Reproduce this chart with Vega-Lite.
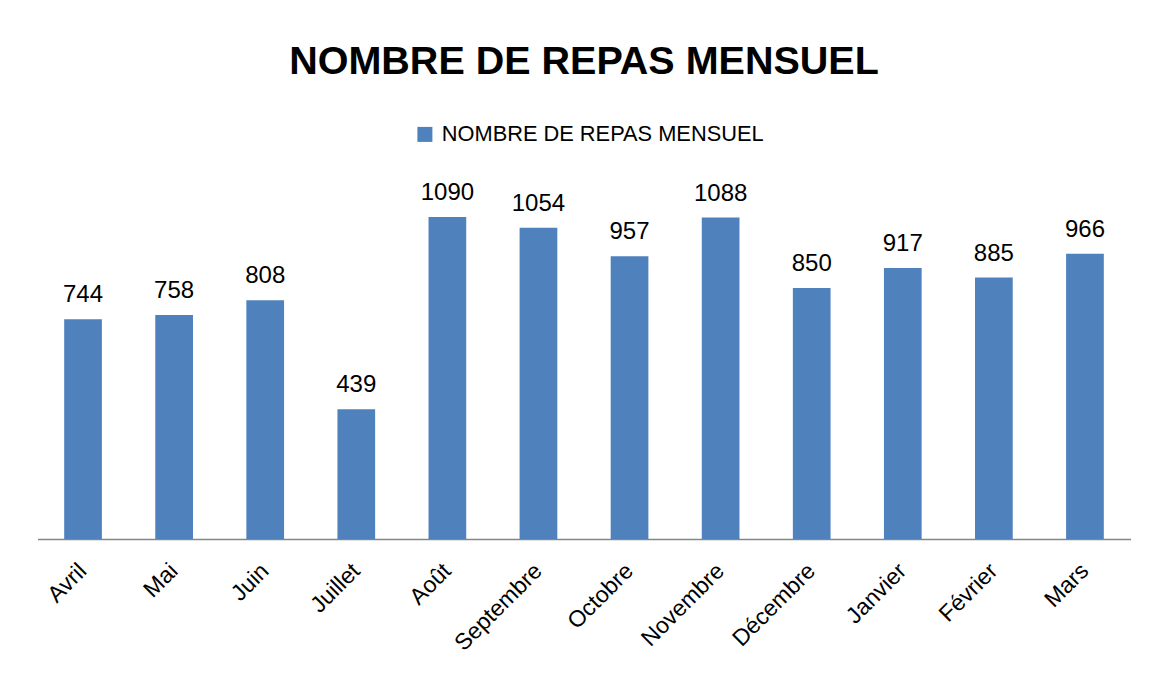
{
  "$schema": "https://vega.github.io/schema/vega-lite/v6.json",
  "autosize": {"type": "none"},
  "padding": {"left": 37.5, "top": 184.5, "right": 20.5, "bottom": 136},
  "width": 1093,
  "height": 354.5,
  "background": "white",
  "title": {
    "text": "NOMBRE DE REPAS MENSUEL",
    "font": "Liberation Sans",
    "fontSize": 39.5,
    "fontWeight": "bold",
    "color": "#000000",
    "anchor": "middle",
    "frame": "group",
    "baseline": "alphabetic",
    "offset": 10
  },
  "data": {
    "values": [
      {"mois": "Avril", "repas": 744},
      {"mois": "Mai", "repas": 758},
      {"mois": "Juin", "repas": 808},
      {"mois": "Juillet", "repas": 439},
      {"mois": "Août", "repas": 1090},
      {"mois": "Septembre", "repas": 1054},
      {"mois": "Octobre", "repas": 957},
      {"mois": "Novembre", "repas": 1088},
      {"mois": "Décembre", "repas": 850},
      {"mois": "Janvier", "repas": 917},
      {"mois": "Février", "repas": 885},
      {"mois": "Mars", "repas": 966}
    ]
  },
  "encoding": {
    "x": {
      "field": "mois",
      "type": "nominal",
      "sort": null,
      "scale": {"paddingInner": 0.586, "paddingOuter": 0.293},
      "axis": {
        "title": null,
        "grid": false,
        "ticks": false,
        "domain": true,
        "domainColor": "#868686",
        "domainWidth": 1.5,
        "domainOpacity": 1,
        "labelAngle": -45,
        "labelAlign": "right",
        "labelBaseline": "middle",
        "labelFont": "Liberation Sans",
        "labelFontSize": 23,
        "labelColor": "#000000",
        "labelPadding": 28,
        "labelLimit": 300
      }
    },
    "y": {
      "field": "repas",
      "type": "quantitative",
      "scale": {"domain": [0, 1200]},
      "axis": null
    }
  },
  "layer": [
    {
      "mark": {"type": "bar"},
      "encoding": {
        "color": {
          "datum": "NOMBRE DE REPAS MENSUEL",
          "scale": {"range": ["#4F81BD"]},
          "legend": {
            "title": null,
            "orient": "none",
            "legendX": 376.5,
            "legendY": -61,
            "symbolType": "square",
            "symbolSize": 225,
            "symbolStrokeWidth": 0,
            "labelFont": "Liberation Sans",
            "labelFontSize": 21.8,
            "labelColor": "#000000",
            "labelOffset": 6,
            "labelLimit": 500
          }
        }
      }
    },
    {
      "mark": {
        "type": "text",
        "baseline": "alphabetic",
        "dy": -17,
        "font": "Liberation Sans",
        "fontSize": 24,
        "color": "#000000"
      },
      "encoding": {"text": {"field": "repas", "type": "quantitative"}}
    }
  ],
  "config": {"view": {"stroke": null}}
}
